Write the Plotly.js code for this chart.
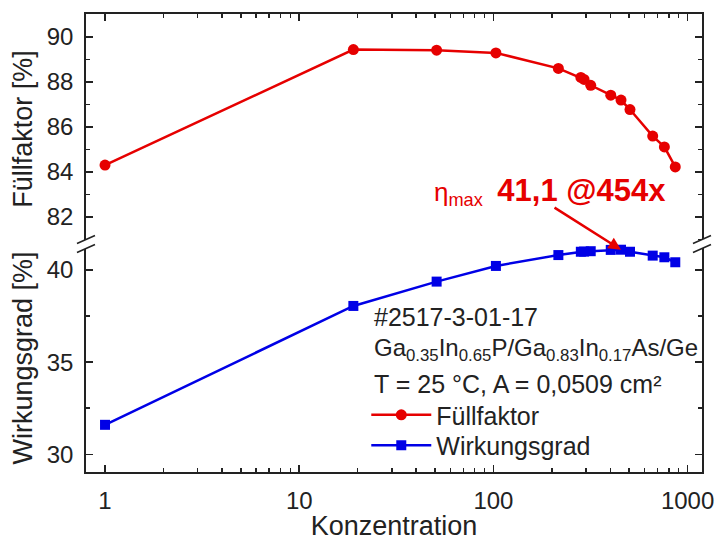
<!DOCTYPE html>
<html>
<head>
<meta charset="utf-8">
<script src="https://cdn.plot.ly/plotly-3.0.1.min.js"></script>
<style>html,body{margin:0;padding:0;background:#fff;}#chart{width:724px;height:541px;}</style>
</head>
<body>
<div id="chart"></div>
<script>
// ---- data ----
const konzentration = [1, 19, 51, 103, 216, 282, 293, 317, 402, 454, 505, 661, 759, 864];
const fuellfaktor   = [84.3, 89.44, 89.41, 89.29, 88.60, 88.20, 88.11, 87.85, 87.41, 87.19, 86.77, 85.59, 85.11, 84.22];
const wirkungsgrad  = [31.6, 38.05, 39.37, 40.22, 40.81, 40.99, 41.0, 41.02, 41.09, 41.1, 40.99, 40.78, 40.69, 40.42];
const xTickVals = [1, 10, 100, 1000];
const xTickText = ['1', '10', '100', '1000'];
const ffTickVals = [82, 84, 86, 88, 90];
const ffMinorVals = [81, 83, 85, 87, 89];
const wgTickVals = [30, 35, 40];
const wgMinorVals = [32.5, 37.5];
const peakIndex = 9;

const RED = '#e60000', BLUE = '#0000e6', INK = '#222222';
const FONT = 'Liberation Sans, Arial, sans-serif';

const xMinor = [];
[1, 10, 100].forEach(d => { for (let k = 2; k <= 9; k++) xMinor.push(k * d); });

const breakY = 0.4978;

const axisCommon = {
  showline: true, linecolor: INK, linewidth: 1.8,
  ticks: 'inside', ticklen: 7, tickwidth: 1.5, tickcolor: INK,
  showgrid: false, zeroline: false,
  tickfont: {family: FONT, size: 24, color: INK}
};

const traces = [
  {
    x: konzentration, y: fuellfaktor, xaxis: 'x2', yaxis: 'y2',
    name: 'Füllfaktor', type: 'scatter', mode: 'lines+markers', legend: 'legend',
    line: {color: RED, width: 2.5},
    marker: {color: RED, symbol: 'circle', size: 11}
  },
  {
    x: konzentration, y: wirkungsgrad, xaxis: 'x', yaxis: 'y',
    name: 'Wirkungsgrad', type: 'scatter', mode: 'lines+markers', legend: 'legend2',
    line: {color: BLUE, width: 2.5},
    marker: {color: BLUE, symbol: 'square', size: 10}
  }
];

function breakMarks(xa) {
  const base = {xref: 'paper', yref: 'paper', xsizemode: 'pixel', ysizemode: 'pixel',
                xanchor: xa, yanchor: breakY, layer: 'above'};
  return [
    Object.assign({}, base, {type: 'path', path: 'M-9,0.5 L9,8.5 L9,-0.5 L-9,-8.5 Z',
                  fillcolor: '#ffffff', line: {width: 0}}),
    Object.assign({}, base, {type: 'line', x0: -9, x1: 9, y0: 0.5, y1: 8.5, line: {color: INK, width: 1.6}}),
    Object.assign({}, base, {type: 'line', x0: -9, x1: 9, y0: -8.5, y1: -0.5, line: {color: INK, width: 1.6}})
  ];
}

const legendCommon = {
  xanchor: 'left', yanchor: 'top',
  font: {family: FONT, size: 25, color: INK},
  bgcolor: 'rgba(0,0,0,0)', borderwidth: 0, itemwidth: 60
};

const layout = {
  width: 724, height: 541,
  margin: {l: 86, r: 22, t: 14, b: 69, pad: 0},
  paper_bgcolor: '#ffffff', plot_bgcolor: '#ffffff',
  font: {family: FONT, color: INK},
  showlegend: true,
  legend: Object.assign({}, legendCommon, {x: 0.455, y: 0.1745}),
  legend2: Object.assign({}, legendCommon, {x: 0.455, y: 0.108}),
  xaxis: Object.assign({}, axisCommon, {
    type: 'log', range: [Math.log10(0.798), Math.log10(1186)],
    anchor: 'y', domain: [0, 1],
    tickmode: 'array', tickvals: xTickVals, ticktext: xTickText,
    ticklabelstandoff: 6,
    minor: {tickmode: 'array', tickvals: xMinor, ticks: 'inside', ticklen: 4, tickwidth: 1.5, tickcolor: INK},
    title: {text: 'Konzentration', font: {family: FONT, size: 27, color: INK}, standoff: 4}
  }),
  xaxis2: Object.assign({}, axisCommon, {
    type: 'log', range: [Math.log10(0.798), Math.log10(1186)],
    anchor: 'y2', side: 'top', domain: [0, 1], showticklabels: false,
    tickmode: 'array', tickvals: xTickVals,
    minor: {tickmode: 'array', tickvals: xMinor, ticks: 'inside', ticklen: 4, tickwidth: 1.5, tickcolor: INK}
  }),
  yaxis: Object.assign({}, axisCommon, {
    domain: [0, breakY], range: [29.04, 41.41], anchor: 'x', mirror: 'ticks',
    tickmode: 'array', tickvals: wgTickVals, ticklabelstandoff: 6,
    minor: {tickmode: 'array', tickvals: wgMinorVals, ticks: 'inside', ticklen: 4, tickwidth: 1.5, tickcolor: INK},
    title: {text: 'Wirkungsgrad [%]', font: {family: FONT, size: 27, color: INK}, standoff: 6}
  }),
  yaxis2: Object.assign({}, axisCommon, {
    domain: [breakY, 1], range: [80.79, 91.02], anchor: 'x2', mirror: 'ticks',
    tickmode: 'array', tickvals: ffTickVals, ticklabelstandoff: 6,
    minor: {tickmode: 'array', tickvals: ffMinorVals, ticks: 'inside', ticklen: 4, tickwidth: 1.5, tickcolor: INK},
    title: {text: 'Füllfaktor [%]', font: {family: FONT, size: 27, color: INK}, standoff: 6}
  }),
  shapes: breakMarks(0).concat(breakMarks(1)),
  annotations: [
    {
      xref: 'x', yref: 'y', x: Math.log10(konzentration[peakIndex]), y: wirkungsgrad[peakIndex],
      text: '', showarrow: true, arrowhead: 2, arrowsize: 1, arrowwidth: 2.5, arrowcolor: RED,
      ax: -68, ay: -43, standoff: 0
    },
    {
      xref: 'paper', yref: 'paper', x: 0.5617, y: 0.6114, xanchor: 'left', yanchor: 'middle',
      showarrow: false,
      text: 'η<sub>max</sub> &nbsp;<b><span style="font-size:31px">41,1 @454x</span></b>',
      font: {family: FONT, size: 26, color: RED}
    },
    {
      xref: 'paper', yref: 'paper', x: 0.4643, y: 0.3395, xanchor: 'left', yanchor: 'middle',
      showarrow: false, text: '#2517-3-01-17', font: {family: FONT, size: 25, color: INK}
    },
    {
      xref: 'paper', yref: 'paper', x: 0.4643, y: 0.2664, xanchor: 'left', yanchor: 'middle',
      showarrow: false,
      text: 'Ga<sub>0.35</sub>In<sub>0.65</sub>P/Ga<sub>0.83</sub>In<sub>0.17</sub>As/Ge',
      font: {family: FONT, size: 24, color: INK}
    },
    {
      xref: 'paper', yref: 'paper', x: 0.4643, y: 0.1932, xanchor: 'left', yanchor: 'middle',
      showarrow: false, text: 'T = 25 °C, A = 0,0509 cm²', font: {family: FONT, size: 25, color: INK}
    }
  ]
};

Plotly.newPlot('chart', traces, layout, {displayModeBar: false, staticPlot: true});
</script>
</body>
</html>
